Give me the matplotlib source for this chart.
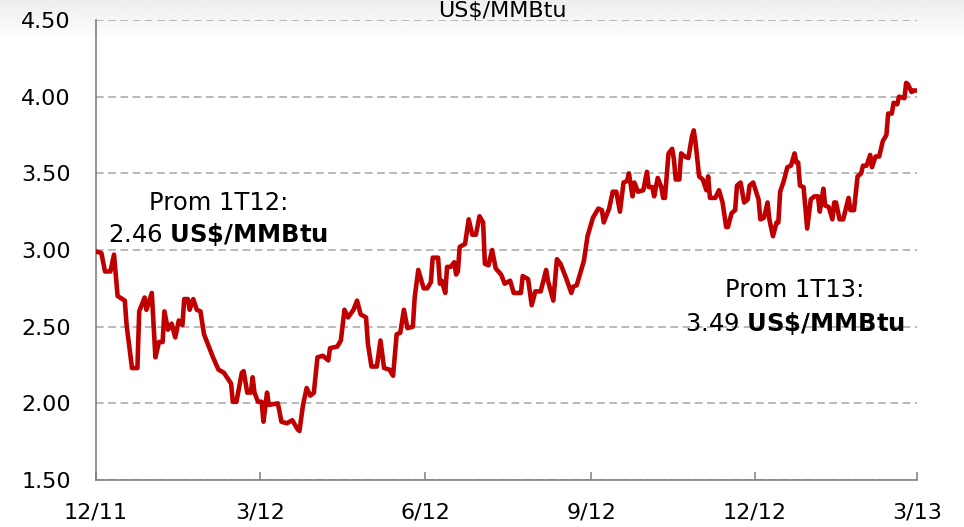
import matplotlib
matplotlib.use("Agg")
import matplotlib.pyplot as plt
import numpy as np
import pandas as pd

plt.rcParams['font.family'] = ['DejaVu Sans']
plt.rcParams['mathtext.fontset'] = 'dejavusans'

# days after 1 Dec 2011 and daily price (US$/MMBtu)
day_offset = [
    0, 3, 5, 8, 10, 12, 16, 17, 20, 23, 24, 27, 28, 31, 33, 35, 37, 38, 40, 42,
    44, 46, 48, 49, 51, 52, 54, 56, 58, 60, 62, 65, 68, 71, 75, 76, 78, 81, 82, 84,
    86, 87, 88, 90, 92, 93, 95, 96, 101, 103, 106, 109, 112, 113, 115, 117, 119, 121, 123, 126,
    129, 130, 134, 136, 138, 140, 143, 145, 147, 150, 151, 153, 156, 158, 160, 163, 165, 167, 169, 171,
    173, 176, 177, 179, 182, 184, 186, 187, 190, 191, 192, 194, 195, 197, 199, 200, 201, 202, 205, 207,
    209, 211, 213, 215, 216, 218, 220, 222, 225, 227, 230, 232, 236, 237, 240, 242, 244, 247, 250, 251,
    254, 256, 258, 261, 264, 265, 267, 269, 271, 273, 276, 277, 279, 281, 282, 285, 287, 289, 291, 293,
    295, 296, 298, 299, 301, 304, 306, 307, 309, 310, 312, 314, 315, 316, 318, 320, 321, 322, 324, 325,
    327, 329, 331, 332, 333, 335, 337, 339, 340, 341, 344, 346, 348, 350, 351, 353, 355, 356, 358, 360,
    362, 363, 365, 368, 369, 371, 373, 374, 376, 378, 379, 380, 382, 384, 386, 388, 389, 390, 391, 393,
    395, 397, 399, 401, 402, 404, 405, 407, 409, 410, 411, 413, 415, 418, 419, 421, 423, 425, 426, 428,
    430, 431, 433, 435, 437, 439, 440, 442, 443, 445, 446, 449, 450, 451, 453, 454, 456,
]
price = [
    2.99, 2.98, 2.86, 2.86, 2.97, 2.70, 2.67, 2.51, 2.23, 2.23, 2.60, 2.69, 2.61, 2.72, 2.30, 2.40, 2.40, 2.60, 2.48, 2.52,
    2.43, 2.54, 2.51, 2.68, 2.68, 2.61, 2.68, 2.61, 2.60, 2.45, 2.39, 2.30, 2.22, 2.20, 2.13, 2.01, 2.01, 2.20, 2.21, 2.07,
    2.07, 2.17, 2.07, 2.01, 2.01, 1.88, 2.07, 1.99, 2.00, 1.88, 1.87, 1.89, 1.83, 1.82, 1.99, 2.10, 2.05, 2.07, 2.30, 2.31,
    2.28, 2.36, 2.37, 2.41, 2.61, 2.56, 2.61, 2.67, 2.58, 2.56, 2.39, 2.24, 2.24, 2.41, 2.23, 2.22, 2.18, 2.45, 2.46, 2.61,
    2.49, 2.50, 2.69, 2.87, 2.75, 2.75, 2.79, 2.95, 2.95, 2.78, 2.80, 2.72, 2.89, 2.89, 2.92, 2.84, 2.86, 3.02, 3.04, 3.20,
    3.10, 3.10, 3.22, 3.18, 2.91, 2.90, 3.00, 2.88, 2.84, 2.78, 2.80, 2.72, 2.72, 2.83, 2.81, 2.64, 2.73, 2.73, 2.87, 2.80,
    2.67, 2.94, 2.91, 2.82, 2.72, 2.76, 2.77, 2.85, 2.93, 3.09, 3.21, 3.23, 3.27, 3.26, 3.18, 3.27, 3.38, 3.38, 3.25, 3.44,
    3.45, 3.50, 3.35, 3.44, 3.38, 3.39, 3.51, 3.41, 3.41, 3.35, 3.47, 3.41, 3.34, 3.34, 3.63, 3.66, 3.59, 3.46, 3.46, 3.63,
    3.61, 3.60, 3.74, 3.78, 3.70, 3.48, 3.46, 3.39, 3.48, 3.34, 3.34, 3.39, 3.31, 3.15, 3.15, 3.24, 3.26, 3.42, 3.44, 3.31,
    3.33, 3.42, 3.44, 3.33, 3.20, 3.21, 3.31, 3.20, 3.09, 3.18, 3.18, 3.38, 3.45, 3.54, 3.55, 3.63, 3.57, 3.57, 3.42, 3.41,
    3.14, 3.33, 3.35, 3.35, 3.25, 3.40, 3.29, 3.28, 3.20, 3.31, 3.31, 3.20, 3.20, 3.34, 3.26, 3.26, 3.48, 3.50, 3.55, 3.55,
    3.62, 3.54, 3.61, 3.61, 3.71, 3.75, 3.89, 3.89, 3.96, 3.95, 4.00, 3.99, 4.09, 4.08, 4.03, 4.04, 4.04,
]

tick_dates = ['2011-12-01', '2012-03-01', '2012-06-01', '2012-09-01', '2012-12-01', '2013-03-01']
tick_labels = ['12/11', '3/12', '6/12', '9/12', '12/12', '3/13']
y_ticks = [1.50, 2.00, 2.50, 3.00, 3.50, 4.00, 4.50]

dates = pd.Timestamp('2011-12-01') + pd.to_timedelta(day_offset, unit='D')

fig = plt.figure(figsize=(9.64, 5.27), dpi=100)

# faint grey shading along the top edge, as in the slide
bg = fig.add_axes([0, 1 - 40 / 527, 1, 40 / 527], zorder=-5)
grad = np.linspace(0.93, 1.0, 50).reshape(-1, 1)
bg.imshow(grad, aspect='auto', cmap='gray', vmin=0, vmax=1, extent=[0, 1, 0, 1], origin='upper')
bg.axis('off')

ax = fig.add_axes([96 / 964, 1 - 480 / 527, 821 / 964, 460 / 527])
ax.patch.set_alpha(0)

ax.plot(dates, price, color='#C00000', lw=3.3, solid_joinstyle='round', zorder=3)

ax.set_xlim(pd.Timestamp(tick_dates[0]), pd.Timestamp(tick_dates[-1]))
ax.set_ylim(1.5, 4.5)
ax.set_yticks(y_ticks)
ax.set_yticklabels([f'{v:.2f}' for v in y_ticks])
ax.set_xticks(pd.to_datetime(tick_dates))
ax.set_xticklabels(tick_labels)

ax.tick_params(axis='y', length=0, pad=18, labelsize=16)
ax.tick_params(axis='x', direction='in', length=6, width=1.1, color='#808080',
               pad=16, labelsize=16)

for side in ['top', 'right']:
    ax.spines[side].set_visible(False)
for side in ['left', 'bottom']:
    ax.spines[side].set_color('#808080')
    ax.spines[side].set_linewidth(1.2)

ax.yaxis.grid(True, color='#a6a6a6', linestyle=(0, (5, 3)), lw=1.1)
ax.set_axisbelow(True)

# unit title sits right at the top edge, above the 4.50 gridline
fig.text(502 / 964, 1 - 17 / 527, 'US$/MMBtu', ha='center', va='baseline', fontsize=16)

ax.text(0.149, 0.587, 'Prom 1T12:', transform=ax.transAxes, ha='center',
        va='baseline', fontsize=17.5)
ax.text(0.149, 0.517, r'2.46 $\mathbf{US\$/MMBtu}$', transform=ax.transAxes,
        ha='center', va='baseline', fontsize=17.5)
ax.text(0.851, 0.398, 'Prom 1T13:', transform=ax.transAxes, ha='center',
        va='baseline', fontsize=17.5)
ax.text(0.851, 0.324, r'3.49 $\mathbf{US\$/MMBtu}$', transform=ax.transAxes,
        ha='center', va='baseline', fontsize=17.5)

fig.savefig('out.png', dpi=100)
